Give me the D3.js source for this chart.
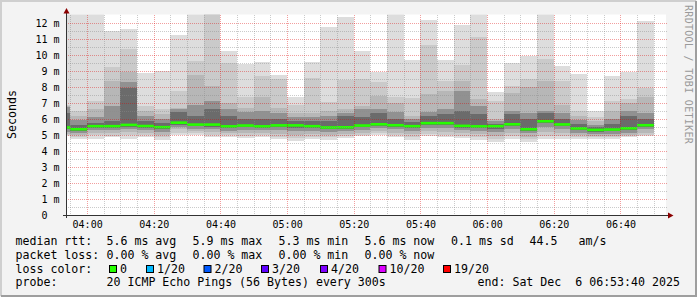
<!DOCTYPE html>
<html>
<head>
<meta charset="utf-8">
<script src="https://cdn.jsdelivr.net/npm/d3@7"></script>
<style>
body { margin: 0; background: #f3f3f3; }
svg text { font-family: "DejaVu Sans Mono", monospace; white-space: pre; }
</style>
</head>
<body>
<svg width="697" height="297"></svg>
<script>
// smokeping detail graph, 3 hours, one bucket per 5 minutes (values in ms)

var BUCKETS = ["03:50","03:55","04:00","04:05","04:10","04:15","04:20","04:25","04:30","04:35",
               "04:40","04:45","04:50","04:55","05:00","05:05","05:10","05:15","05:20","05:25",
               "05:30","05:35","05:40","05:45","05:50","05:55","06:00","06:05","06:10","06:15",
               "06:20","06:25","06:30","06:35","06:40","06:45"];

// sorted pings of each bucket (20 pings): p20 = max ... p1 = min
var P20 = [13,13,13,11.5,11.6,8.87,9.0,11.22,13,13.5,10.23,9.45,9.56,8.75,7.38,9.56,11.74,12.4,10.23,8.93,13,9.66,12.2,9.66,11.86,13,7.69,9.52,9.93,13,9.3,8.8,6.48,8.67,8.93,12.1];
var P19 = [6.85,6.5,7.13,9.25,10.35,6.8,6.6,7.73,9.6,13,9.52,7.4,8.68,8.52,6.86,8.58,7.06,8.42,8.52,8.31,7.4,7.34,10.6,8.35,9.36,11.1,7.13,8.04,8.52,9.78,8.36,6.5,6.1,7.13,7.27,7.96];
var P18 = [6.8,6.2,6.6,8.35,8.92,6.5,6.3,6.7,8.73,8.04,7.0,6.7,7.36,6.67,6.4,6.4,6.5,6.6,6.8,7.42,6.97,6.2,7.55,7.73,8.35,7.25,6.0,7.6,8.02,8.36,6.9,6.2,5.85,6.5,6.97,7.4];
var P16 = [6.75,5.95,6.1,6.8,8.29,6.2,6.0,6.6,6.9,7.13,6.6,6.45,6.5,6.4,6.1,6.1,6.2,6.4,6.6,6.6,6.45,6.0,6.45,6.6,7.73,6.8,5.85,6.5,6.4,6.5,6.4,5.95,5.65,6.0,6.5,6.4];
var P14 = [6.35,5.6,5.75,5.9,7.95,5.85,5.75,6.45,6.2,6.6,6.2,6.0,6.0,6.0,5.85,5.85,5.9,6.2,6.1,6.4,6.0,5.8,6.2,6.3,6.5,6.3,5.7,6.3,6.0,6.4,6.0,5.7,5.5,5.7,6.2,6.0];
var MEDIAN = [5.47,5.36,5.55,5.55,5.63,5.56,5.49,5.77,5.65,5.65,5.54,5.59,5.54,5.6,5.6,5.55,5.47,5.48,5.59,5.67,5.61,5.55,5.74,5.74,5.57,5.54,5.55,5.67,5.36,5.86,5.66,5.41,5.32,5.34,5.42,5.61];
var P7  = [5.35,5.25,5.45,5.45,5.5,5.45,5.38,5.65,5.55,5.52,5.42,5.48,5.44,5.48,5.45,5.42,5.35,5.38,5.48,5.56,5.5,5.42,5.62,5.62,5.45,5.42,5.4,5.55,5.25,5.72,5.54,5.3,5.2,5.22,5.3,5.5];
var P5  = [5.2,5.1,5.3,5.3,5.35,5.3,5.2,5.5,5.4,5.35,5.28,5.3,5.3,5.3,5.25,5.25,5.2,5.22,5.33,5.42,5.35,5.25,5.45,5.45,5.3,5.25,5.2,5.38,5.1,5.5,5.38,5.15,5.05,5.08,5.15,5.35];
var P3  = [5.05,5.0,5.15,5.1,5.2,5.15,5.0,5.35,5.25,5.2,5.1,5.1,5.12,5.05,5.0,5.05,5.0,5.05,5.15,5.25,5.15,5.05,5.25,5.2,5.1,5.05,4.95,5.15,4.9,5.2,5.15,5.0,4.95,4.95,5.0,5.15];
var P2  = [5.0,4.9,5.0,4.95,5.0,5.0,4.85,5.15,5.1,5.0,4.98,4.95,4.98,4.9,4.8,4.9,4.85,4.92,5.02,5.1,5.0,4.85,5.05,5.0,4.95,4.85,4.75,4.95,4.72,4.95,4.95,4.85,4.85,4.85,4.92,5.02];
var P1  = [4.93,4.78,4.78,4.88,4.78,4.88,4.68,4.99,4.99,4.88,4.88,4.84,4.88,4.74,4.61,4.74,4.68,4.82,4.93,4.99,4.88,4.68,4.93,4.88,4.84,4.68,4.55,4.78,4.55,4.78,4.78,4.72,4.78,4.78,4.88,4.93];

var Y_TICKS = [0,1,2,3,4,5,6,7,8,9,10,11,12];

var LEGEND_RTT  = ["5.6 ms avg","5.9 ms max","5.3 ms min","5.6 ms now","0.1 ms sd","44.5","am/s"];
var LEGEND_LOSS = ["0.00 % avg","0.00 % max","0.00 % min","0.00 % now"];
var LOSS_LABELS = ["0","1/20","2/20","3/20","4/20","10/20","19/20"];
var LOSS_COLORS = ["#26ff00","#00b8ff","#0059ff","#5e00ff","#7e00ff","#dd00ff","#ff0000"];
var PROBE = "20 ICMP Echo Pings (56 Bytes) every 300s";
var END_TEXT = "end: Sat Dec  6 06:53:40 2025";


var svg = d3.select("svg");
var W = 697, H = 297;
PLOT = ({left: 66, right: 666, top: 14.5, bottom: 215});

function t(s) {
    var p = s.split(":").map(Number);
    return new Date(Date.UTC(2025, 11, 6, p[0], p[1], p[2] || 0));
}

var x = d3.scaleUtc().domain([t("03:53:40"), t("06:53:40")]).range([PLOT.left, PLOT.right]);
var y = d3.scaleLinear().domain([0, 12.5]).range([PLOT.bottom, 15]);

// frame
svg.append("rect").attr("width", W).attr("height", H).attr("fill", "#f3f3f3");
svg.append("path").attr("d", "M1,296V1H696").attr("fill", "none").attr("stroke", "#cfcfcf").attr("stroke-width", 2);
svg.append("path").attr("d", "M1,296H696V1").attr("fill", "none").attr("stroke", "#9e9e9e").attr("stroke-width", 2);

svg.append("rect")
    .attr("x", PLOT.left).attr("y", PLOT.top)
    .attr("width", PLOT.right - PLOT.left).attr("height", PLOT.bottom - PLOT.top)
    .attr("fill", "#fff");

svg.append("clipPath").attr("id", "clip")
  .append("rect")
    .attr("x", PLOT.left).attr("y", PLOT.top)
    .attr("width", PLOT.right - PLOT.left).attr("height", PLOT.bottom - PLOT.top);

var g = svg.append("g").attr("clip-path", "url(#clip)");

var starts = BUCKETS.map(s => t(s));
var ends = starts.map(d => d3.utcMinute.offset(d, 5));

// smoke: outer pair lightest, inner pairs darker
var bands = [
    [P1, P20, "#dddddd"],
    [P2, P19, "#cacaca"],
    [P3, P18, "#b7b7b7"],
    [P5, P16, "#919191"],
    [P7, P14, "#6b6b6b"]
];

bands.forEach(function(b) {
    g.append("g").attr("shape-rendering", "crispEdges")
      .selectAll("rect")
      .data(d3.range(BUCKETS.length))
      .enter().append("rect")
        .attr("x", i => x(starts[i]))
        .attr("width", i => x(ends[i]) - x(starts[i]))
        .attr("y", i => y(b[1][i]))
        .attr("height", i => y(b[0][i]) - y(b[1][i]))
        .attr("fill", b[2]);
});

// median
g.append("g")
  .selectAll("rect")
  .data(d3.range(BUCKETS.length))
  .enter().append("rect")
    .attr("x", i => x(starts[i]))
    .attr("width", i => x(ends[i]) - x(starts[i]))
    .attr("y", i => y(MEDIAN[i]) - 1.3)
    .attr("height", 2.6)
    .attr("fill", LOSS_COLORS[0]);

// grid on top of data
var grid = svg.append("g").attr("shape-rendering", "crispEdges").attr("stroke-dasharray", "1,1");
var minor = "rgba(140,140,140,0.45)", major = "rgba(220,0,0,0.38)";

d3.utcMinute.every(5).range(x.domain()[0], x.domain()[1]).forEach(function(d) {
    var isMajor = d.getUTCMinutes() % 20 == 0;
    grid.append("line")
        .attr("x1", Math.round(x(d)) + 0.5).attr("x2", Math.round(x(d)) + 0.5)
        .attr("y1", PLOT.top).attr("y2", PLOT.bottom)
        .attr("stroke", isMajor ? major : minor);
});
d3.range(1, 25).forEach(function(k) {
    var v = k / 2;
    grid.append("line")
        .attr("x1", PLOT.left).attr("x2", PLOT.right + 2)
        .attr("y1", Math.round(y(v)) + 0.5).attr("y2", Math.round(y(v)) + 0.5)
        .attr("stroke", k % 2 == 0 ? major : minor);
});

// axes
svg.append("line").attr("x1", PLOT.left + 0.5).attr("x2", PLOT.left + 0.5)
    .attr("y1", PLOT.bottom + 3).attr("y2", 11).attr("stroke", "#333");
svg.append("path").attr("d", "M63.5,13.5L69.5,13.5L66.5,8Z").attr("fill", "#8b0000");
svg.append("line").attr("x1", PLOT.left - 3).attr("x2", 669)
    .attr("y1", PLOT.bottom + 0.5).attr("y2", PLOT.bottom + 0.5).attr("stroke", "#333");
svg.append("path").attr("d", "M668,212.5L668,218.5L673.5,215.5Z").attr("fill", "#8b0000");

var xAxis = svg.append("g")
    .attr("transform", "translate(0," + PLOT.bottom + ")")
    .call(d3.axisBottom(x).ticks(d3.utcMinute.every(20)).tickFormat(d3.utcFormat("%H:%M")).tickSize(0).tickPadding(6));
xAxis.select(".domain").remove();
xAxis.selectAll("text").attr("font-family", "DejaVu Sans Mono").attr("font-size", 10).attr("fill", "#000");

var yAxis = svg.append("g")
    .attr("transform", "translate(" + PLOT.left + ",0)")
    .call(d3.axisLeft(y).tickValues(Y_TICKS).tickFormat(d => d).tickSize(0).tickPadding(18.5));
yAxis.select(".domain").remove();
yAxis.selectAll("text").attr("font-family", "DejaVu Sans Mono").attr("font-size", 10).attr("fill", "#000");
yAxis.selectAll(".tick").filter(d => d > 0)
  .append("text")
    .attr("x", -12.5).attr("dy", "0.32em")
    .attr("text-anchor", "start")
    .attr("font-family", "DejaVu Sans Mono").attr("font-size", 10).attr("fill", "#000")
    .text("m");

svg.append("text")
    .attr("transform", "translate(15.5,114.5) rotate(-90)")
    .attr("text-anchor", "middle")
    .attr("font-size", 11.6)
    .text("Seconds");

svg.append("text")
    .attr("transform", "translate(685,5) rotate(90)")
    .attr("font-size", 10)
    .attr("letter-spacing", 0.3)
    .attr("fill", "#9a9a9a")
    .text("RRDTOOL / TOBI OETIKER");

// legend
var LF = 11.6;
var leg = svg.append("g").attr("font-size", LF).attr("fill", "#000");
var rows = [245, 258.8, 272.6, 286.4];

leg.append("text").attr("x", 15.5).attr("y", rows[0]).text("median rtt:");
[106.5, 192.5, 278.5, 364.5, 451, 529.5, 578.5].forEach(function(px, i) {
    leg.append("text").attr("x", px).attr("y", rows[0]).text(LEGEND_RTT[i]);
});

leg.append("text").attr("x", 15.5).attr("y", rows[1]).text("packet loss:");
[106.5, 192.5, 278.5, 364.5].forEach(function(px, i) {
    leg.append("text").attr("x", px).attr("y", rows[1]).text(LEGEND_LOSS[i]);
});

leg.append("text").attr("x", 15.5).attr("y", rows[2]).text("loss color:");
[109, 146, 203.5, 261, 320, 378.5, 443].forEach(function(px, i) {
    leg.append("rect")
        .attr("x", px + 0.5).attr("y", 265.5).attr("width", 7).attr("height", 7)
        .attr("fill", LOSS_COLORS[i]).attr("stroke", "#000");
    leg.append("text").attr("x", px + 11).attr("y", rows[2]).text(LOSS_LABELS[i]);
});

leg.append("text").attr("x", 15.5).attr("y", rows[3]).text("probe:");
leg.append("text").attr("x", 106.5).attr("y", rows[3]).text(PROBE);
leg.append("text").attr("x", 477.5).attr("y", rows[3]).text(END_TEXT);
</script>
</body>
</html>
